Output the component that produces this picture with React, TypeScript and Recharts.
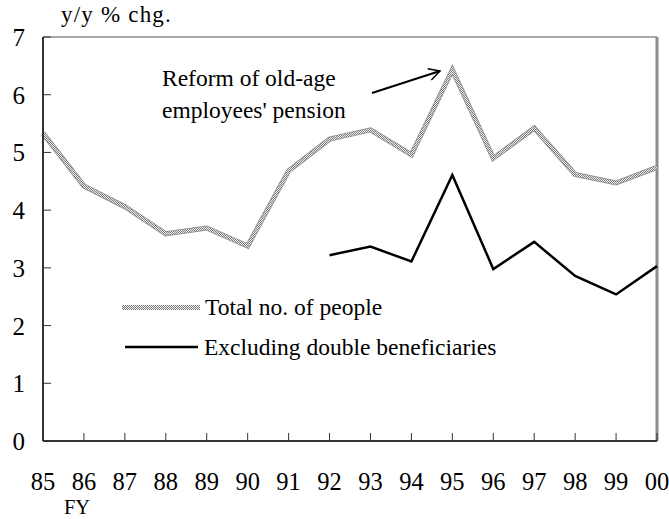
import React from 'react';
import { LineChart, Line, XAxis, YAxis, ReferenceLine, Legend } from 'recharts';

const years = ['85', '86', '87', '88', '89', '90', '91', '92', '93', '94', '95', '96', '97', '98', '99', '00'];
const totalPeople = [5.33, 4.42, 4.06, 3.59, 3.69, 3.38, 4.68, 5.23, 5.39, 4.96, 6.43, 4.9, 5.42, 4.62, 4.47, 4.74];
const excludingDouble: (number | null)[] = [null, null, null, null, null, null, null, 3.22, 3.37, 3.11, 4.61, 2.98, 3.45, 2.86, 2.54, 3.03];
const yTicks = [0, 1, 2, 3, 4, 5, 6, 7];
const seriesNames = { total: 'Total no. of people', excl: 'Excluding double beneficiaries' };
const titleText = 'y/y % chg.';
const xAxisTitle = 'FY';
const annotationLines = ['Reform of old-age', "employees' pension"];

const data = years.map((y, i) => ({ year: y, total: totalPeople[i], excl: excludingDouble[i] }));

const FONT = 'Liberation Serif';
const txt = (size: number) => ({ fontFamily: FONT, fontSize: size });

const XTick = (props: any) => {
  const { x, y, payload } = props;
  return (
    <g>
      <line x1={x} y1={y} x2={x} y2={y - 8} stroke="#333" strokeWidth={1} />
      <text x={x} y={y + 49} textAnchor="middle" style={txt(24.5)} fill="#000">
        {payload.value}
      </text>
    </g>
  );
};

const YTick = (props: any) => {
  const { x, y, payload } = props;
  return (
    <g>
      <line x1={x} y1={y} x2={x + 8} y2={y} stroke="#333" strokeWidth={1} />
      <text x={x - 18} y={y + 9} textAnchor="end" style={txt(25)} fill="#000">
        {payload.value}
      </text>
    </g>
  );
};

const LegendContent = () => (
  <svg width={440} height={80} style={{ display: 'block' }}>
    <defs>
      <pattern id="ditherL" width="2" height="2" patternUnits="userSpaceOnUse">
        <rect width="2" height="2" fill="#f2f2f2" />
        <rect width="1" height="1" fill="#7a7a7a" />
        <rect x="1" y="1" width="1" height="1" fill="#7a7a7a" />
      </pattern>
    </defs>
    <rect x={2} y={21} width={78} height={5} fill="url(#ditherL)" />
    <text x={85} y={31} style={txt(23.5)} fill="#000">{seriesNames.total}</text>
    <line x1={5} y1={63} x2={78} y2={63} stroke="#000" strokeWidth={2.5} />
    <text x={84} y={71} style={txt(23.5)} fill="#000">{seriesNames.excl}</text>
  </svg>
);

export default function App() {
  return (
    <div style={{ position: 'absolute', left: 0, top: 0, width: 669, height: 519, background: '#fff', fontFamily: FONT }}>
      <LineChart width={669} height={519} data={data} margin={{ top: 37, right: 12, bottom: 0, left: 0 }} style={{ fontFamily: FONT }}>
        <defs>
          <pattern id="dither" width="2" height="2" patternUnits="userSpaceOnUse">
            <rect width="2" height="2" fill="#f2f2f2" />
            <rect width="1" height="1" fill="#7a7a7a" />
            <rect x="1" y="1" width="1" height="1" fill="#7a7a7a" />
          </pattern>
          <marker id="arrowHead" markerWidth="14" markerHeight="14" refX="12" refY="7" orient="auto" markerUnits="userSpaceOnUse">
            <path d="M1,1 L12,7 L1,13" fill="none" stroke="#000" strokeWidth={1.5} />
          </marker>
        </defs>
        <XAxis
          dataKey="year"
          height={78}
          tickSize={0}
          tickMargin={0}
          tickLine={false}
          axisLine={{ stroke: '#333', strokeWidth: 2 }}
          tick={<XTick />}
          interval={0}
        />
        <YAxis
          width={43}
          domain={[0, 7]}
          ticks={yTicks}
          tickSize={0}
          tickMargin={0}
          tickLine={false}
          axisLine={{ stroke: '#333', strokeWidth: 2 }}
          tick={<YTick />}
          interval={0}
        />
        <ReferenceLine y={7} stroke="#a8a8a8" strokeWidth={2} />
        <ReferenceLine x="00" stroke="#8c8c8c" strokeWidth={3} />
        <Line dataKey="total" name={seriesNames.total} stroke="#8a8a8a" strokeWidth={5} dot={false} isAnimationActive={false} strokeLinejoin="miter" />
        <Line dataKey="total" legendType="none" stroke="url(#dither)" strokeWidth={3.5} dot={false} isAnimationActive={false} strokeLinejoin="miter" />
        <Line dataKey="excl" name={seriesNames.excl} stroke="#000" strokeWidth={2.5} dot={false} isAnimationActive={false} strokeLinejoin="miter" />
        <Legend
          layout="horizontal"
          verticalAlign="middle"
          align="center"
          content={<LegendContent />}
          wrapperStyle={{ position: 'absolute', left: 120, top: 284, width: 440, height: 80 }}
        />
        <text x={61} y={22} style={{ ...txt(23), letterSpacing: 1.2 }} fill="#000">{titleText}</text>
        <text x={77} y={514} textAnchor="middle" style={txt(20.5)} fill="#000">{xAxisTitle}</text>
        <text x={162} y={86} style={txt(23.5)} fill="#000">{annotationLines[0]}</text>
        <text x={162} y={118} style={txt(23.5)} fill="#000">{annotationLines[1]}</text>
        <line x1={372} y1={93} x2={440} y2={71} stroke="#000" strokeWidth={2} markerEnd="url(#arrowHead)" />
      </LineChart>
    </div>
  );
}
